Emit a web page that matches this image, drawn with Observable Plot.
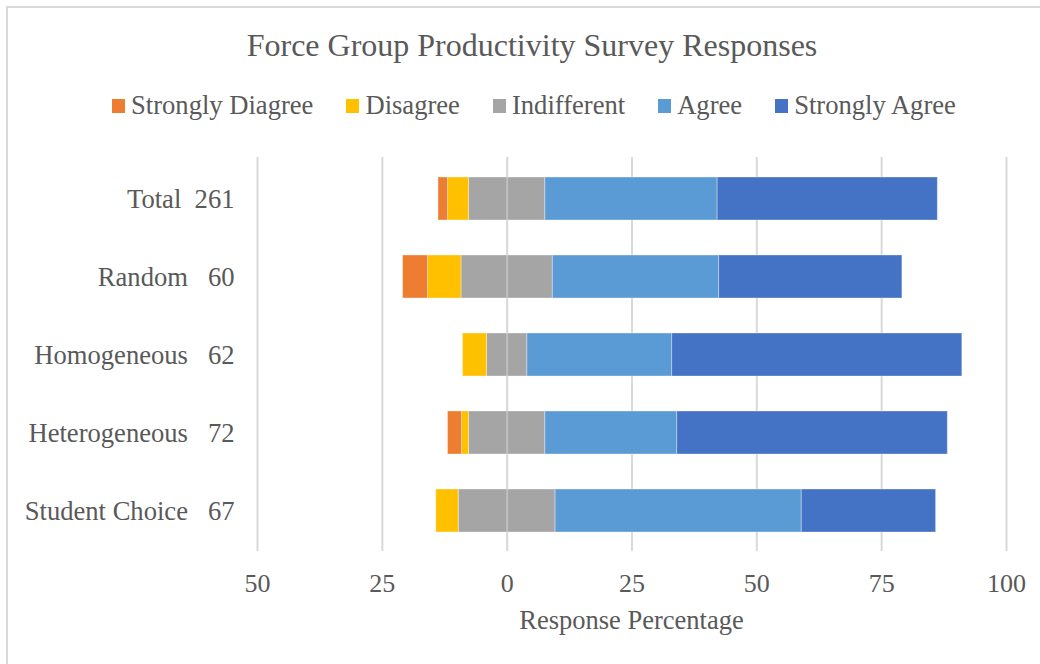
<!DOCTYPE html>
<html>
<head>
<meta charset="utf-8">
<script src="https://cdn.jsdelivr.net/npm/d3@7"></script>
<script src="https://cdn.jsdelivr.net/npm/@observablehq/plot@0.6"></script>
<style>
  html, body { margin: 0; padding: 0; background: #fff; }
  #wrap { position: relative; width: 1040px; height: 664px; overflow: hidden; font-family: "Liberation Serif", "Times New Roman", serif; color: #595959; }
  #frame { position: absolute; left: 6px; top: 6px; width: 1200px; height: 800px; border-top: 2px solid #d9d9d9; border-left: 2px solid #d9d9d9; }
  #title { position: absolute; left: 0; width: 1064px; top: 29px; text-align: center; font-size: 32px; line-height: 1; white-space: nowrap; }
  #legend { position: absolute; left: 112px; top: 92px; display: flex; align-items: center; font-size: 26.6px; line-height: 1; white-space: nowrap; }
  .item { display: flex; align-items: center; margin-right: 33px; }
  .sw { width: 13px; height: 14px; margin-right: 6px; margin-top: 2px; }
  #chart { position: absolute; left: 0; top: 140px; }
  #xlabel { position: absolute; left: 257px; width: 749px; top: 607px; text-align: center; font-size: 26.5px; line-height: 1; }
</style>
</head>
<body>
<div id="wrap">
  <div id="frame"></div>
  <div id="title">Force Group Productivity Survey Responses</div>
  <div id="legend"></div>
  <div id="chart"></div>
  <div id="xlabel">Response Percentage</div>
</div>
<script>
// ---- Data (percent of responses per group) ----
const groups = ["Total", "Random", "Homogeneous", "Heterogeneous", "Student Choice"];
const counts = [261, 60, 62, 72, 67];
const responses = ["Strongly Diagree", "Disagree", "Indifferent", "Agree", "Strongly Agree"];
const colors = ["#ED7D31", "#FFC000", "#A5A5A5", "#5B9BD5", "#4472C4"];
const stronglyDisagree = [1.9, 5.0, 0.0, 2.8, 0.0];
const disagree        = [4.2, 6.7, 4.8, 1.4, 4.5];
const indifferent     = [15.3, 18.3, 8.1, 15.3, 19.4];
const agree           = [34.5, 33.3, 29.0, 26.4, 49.3];
const stronglyAgree   = [44.1, 36.7, 58.1, 54.2, 26.9];
const xTicks = [-50, -25, 0, 25, 50, 75, 100];

// ---- Build labels and diverging segments ----
const nb = "\u00a0";
const labels = groups.map((g, i) => g + nb.repeat(String(counts[i]).length >= 3 ? 2 : 3) + counts[i]);
const rows = [];
groups.forEach((g, i) => {
  const half = indifferent[i] / 2;
  const lab = labels[i];
  rows.push({group: lab, response: responses[2], x1: -half, x2: half});
  rows.push({group: lab, response: responses[1], x1: -half - disagree[i], x2: -half});
  rows.push({group: lab, response: responses[0], x1: -half - disagree[i] - stronglyDisagree[i], x2: -half - disagree[i]});
  rows.push({group: lab, response: responses[3], x1: half, x2: half + agree[i]});
  rows.push({group: lab, response: responses[4], x1: half + agree[i], x2: half + agree[i] + stronglyAgree[i]});
});
const segs = rows.filter(d => d.x2 - d.x1 > 0);

// ---- Legend ----
const leg = document.getElementById("legend");
responses.forEach((r, i) => {
  const it = document.createElement("div");
  it.className = "item";
  const sw = document.createElement("div");
  sw.className = "sw";
  sw.style.background = colors[i];
  const tx = document.createElement("span");
  tx.textContent = r;
  it.appendChild(sw); it.appendChild(tx);
  leg.appendChild(it);
});

// ---- Chart ----
const plot = Plot.plot({
  width: 1040,
  height: 524,
  marginTop: 17,
  marginBottom: 113,
  marginLeft: 257,
  marginRight: 34,
  style: {fontFamily: "'Liberation Serif', 'Times New Roman', serif", color: "#595959", background: "transparent"},
  x: {domain: [-50, 100]},
  y: {domain: labels, paddingInner: 0.45, paddingOuter: 0.225},
  color: {domain: responses, range: colors},
  marks: [
    Plot.gridX(xTicks, {stroke: "#d9d9d9", strokeOpacity: 1, strokeWidth: 2}),
    Plot.barX(segs, {x1: "x1", x2: "x2", y: "group", fill: "response", stroke: "white", strokeOpacity: 0.35, strokeWidth: 1}),
    Plot.ruleX([0], {stroke: "#d9d9d9", strokeOpacity: 0.5, strokeWidth: 2}),
    Plot.axisX(xTicks, {tickSize: 0, tickPadding: 22, fontSize: 26, tickFormat: d => Math.abs(d), label: null}),
    Plot.axisY({tickSize: 0, tickPadding: 23, fontSize: 26.6, label: null})
  ]
});
document.getElementById("chart").appendChild(plot);
</script>
</body>
</html>
